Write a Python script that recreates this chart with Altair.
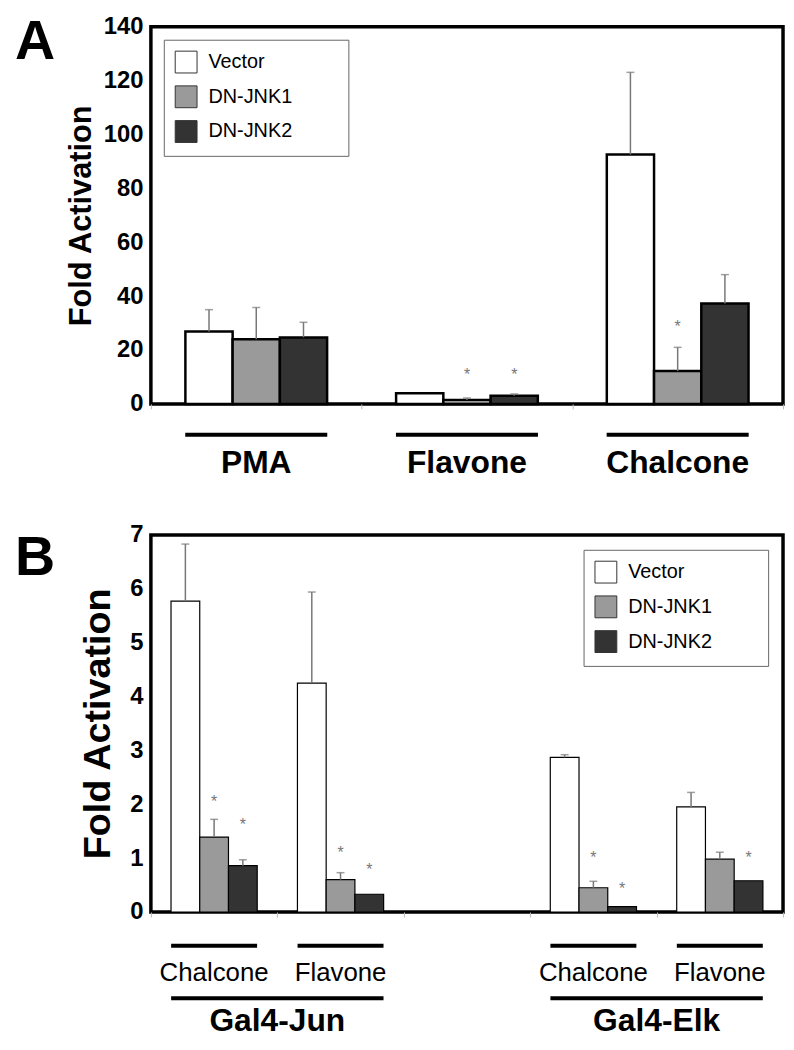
import altair as alt
import pandas as pd

FONT = "Liberation Sans"
series = ["Vector", "DN-JNK1", "DN-JNK2"]
colors = ["#ffffff", "#9a9a9a", "#333333"]

# ---------------- Panel A data ----------------
a_groups = ["PMA", "Flavone", "Chalcone"]
a_vector = [26.9, 4.0, 92.6]
a_jnk1 = [24.0, 1.5, 12.2]
a_jnk2 = [24.7, 3.0, 37.3]
a_vector_err = [8.1, 0.0, 30.5]
a_jnk1_err = [11.8, 0.7, 8.8]
a_jnk2_err = [5.6, 0.7, 10.7]
a_star_group = ["Flavone", "Flavone", "Chalcone"]
a_star_series = ["DN-JNK1", "DN-JNK2", "DN-JNK1"]
a_star_y = [10.7, 10.7, 28.4]
a_ticks = [0, 20, 40, 60, 80, 100, 120, 140]

# ---------------- Panel B data ----------------
b_slots = ["Jun Chalcone", "Jun Flavone", "gap", "Elk Chalcone", "Elk Flavone"]
b_groups = ["Jun Chalcone", "Jun Flavone", "Elk Chalcone", "Elk Flavone"]
b_sublabels = ["Chalcone", "Flavone", "Chalcone", "Flavone"]
b_vector = [5.77, 4.25, 2.87, 1.95]
b_jnk1 = [1.39, 0.60, 0.45, 0.98]
b_jnk2 = [0.86, 0.33, 0.10, 0.58]
b_vector_err = [1.06, 1.69, 0.05, 0.27]
b_jnk1_err = [0.33, 0.13, 0.12, 0.13]
b_jnk2_err = [0.11, 0.0, 0.0, 0.0]
b_star_group = ["Jun Chalcone", "Jun Chalcone", "Jun Flavone", "Jun Flavone",
                "Elk Chalcone", "Elk Chalcone", "Elk Flavone"]
b_star_series = ["DN-JNK1", "DN-JNK2", "DN-JNK1", "DN-JNK2",
                 "DN-JNK1", "DN-JNK2", "DN-JNK2"]
b_star_y = [2.04, 1.62, 1.1, 0.78, 1.0, 0.42, 1.0]
b_constructs = ["Gal4-Jun", "Gal4-Elk"]
b_construct_start = ["Jun Chalcone", "Elk Chalcone"]
b_construct_end = ["Jun Flavone", "Elk Flavone"]
b_ticks = [0, 1, 2, 3, 4, 5, 6, 7]

W, H = 637, 380
PAD = "\u2800" * 3  # blank braille cells widen the legend box


def long_df(groups, vals, errs):
    rows = []
    for s, v, e in zip(series, vals, errs):
        for g, vv, ee in zip(groups, v, e):
            rows.append({"group": g, "series": s, "value": vv, "top": vv + ee, "err": ee})
    return pd.DataFrame(rows)


def x_parts(groups):
    sc = alt.Scale(domain=groups, paddingInner=0, paddingOuter=0)
    ax = alt.Axis(labels=False, domain=False, ticks=True, tickBand="extent",
                  tickColor="#bbbbbb", tickSize=5, title=None, grid=False)
    return sc, ax


def panel(groups, domain, vals, errs, star_g, star_s, star_y, ticks, ymax,
          letter, bar_sw, off_pad, tick_fs, title_fs, title_pad, legend_orient,
          legend_offset, letter_y):
    df = long_df(domain, vals, errs)
    err_df = df[df["err"] > 0]
    star_df = pd.DataFrame({"group": star_g, "series": star_s, "y": star_y})

    x_sc, x_ax = x_parts(groups)
    x_enc = alt.X("group:N", scale=x_sc, axis=x_ax)
    xo = alt.XOffset("series:N", scale=alt.Scale(domain=series, paddingInner=0,
                                                 paddingOuter=off_pad))
    y_scale = alt.Scale(domain=[0, ymax], nice=False)
    y_axis = alt.Axis(values=ticks, title="Fold Activation", ticks=False, domain=False,
                      grid=False, labelFontSize=tick_fs, labelFontWeight="bold",
                      labelFont=FONT, labelColor="black", labelPadding=8,
                      titleFont=FONT, titleFontSize=title_fs, titleFontWeight="bold",
                      titleColor="black", titlePadding=title_pad)

    bars = alt.Chart(df).mark_bar(stroke="black", strokeWidth=bar_sw).encode(
        x=x_enc, xOffset=xo,
        y=alt.Y("value:Q", scale=y_scale, axis=y_axis),
        color=alt.Color("series:N", scale=alt.Scale(domain=series, range=colors),
                        legend=alt.Legend(title=None, orient=legend_orient,
                                          offset=legend_offset, padding=11,
                                          strokeColor="#666666", fillColor="white",
                                          symbolType="square", symbolSize=484,
                                          symbolStrokeColor="#333333", symbolStrokeWidth=1,
                                          symbolOpacity=1,
                                          labelFont=FONT, labelFontSize=20, labelColor="black",
                                          labelOffset=11, rowPadding=8,
                                          labelExpr="datum.label + '" + PAD + "'")),
    )
    rules = alt.Chart(err_df).mark_rule(color="#777777", strokeWidth=1.5).encode(
        x=x_enc, xOffset=xo, y=alt.Y("value:Q", scale=y_scale, axis=y_axis), y2="top:Q")
    caps = alt.Chart(err_df).mark_tick(color="#777777", size=8, thickness=1.5).encode(
        x=x_enc, xOffset=xo, y=alt.Y("top:Q", scale=y_scale, axis=y_axis))
    stars = alt.Chart(star_df).mark_text(text="*", fontSize=16, color="#777777",
                                         baseline="middle", font=FONT).encode(
        x=x_enc, xOffset=xo, y=alt.Y("y:Q", scale=y_scale, axis=y_axis))
    lab = alt.Chart(pd.DataFrame({"t": [letter]})).mark_text(
        fontSize=56, fontWeight="bold", align="left", baseline="alphabetic",
        font=FONT, color="black").encode(x=alt.value(-137), y=alt.value(letter_y), text="t:N")
    return x_sc, x_ax, [bars, rules, caps, stars, lab]


# ---------------- Panel A ----------------
xA_sc, xA_ax, layersA = panel(a_groups, a_groups, [a_vector, a_jnk1, a_jnk2],
                              [a_vector_err, a_jnk1_err, a_jnk2_err],
                              a_star_group, a_star_series, a_star_y, a_ticks, 140, "A",
                              2.5, 0.73, 24, 31, 6, "top-left", 13, 32)
a_lab_df = pd.DataFrame({"group": a_groups})
a_under = alt.Chart(a_lab_df).mark_rule(color="black", strokeWidth=4).encode(
    x=alt.X("group:N", bandPosition=0.163, scale=xA_sc, axis=xA_ax),
    x2=alt.X2("group", bandPosition=0.837), y=alt.value(H + 31))
a_text = alt.Chart(a_lab_df).mark_text(fontSize=32, fontWeight="bold", font=FONT,
                                       baseline="middle", color="black").encode(
    x=alt.X("group:N", scale=xA_sc, axis=xA_ax), y=alt.value(H + 60), text="group:N")
chartA = alt.layer(*layersA, a_under, a_text).properties(width=W, height=H)

# ---------------- Panel B ----------------
xB_sc, xB_ax, layersB = panel(b_slots, b_groups, [b_vector, b_jnk1, b_jnk2],
                              [b_vector_err, b_jnk1_err, b_jnk2_err],
                              b_star_group, b_star_series, b_star_y, b_ticks, 7, "B",
                              1.2, 0.7, 24, 38, 12, "top-right", 15, 40)
b_sub_df = pd.DataFrame({"group": b_groups, "label": b_sublabels})
b_under = alt.Chart(b_sub_df).mark_rule(color="black", strokeWidth=4).encode(
    x=alt.X("group:N", bandPosition=0.16, scale=xB_sc, axis=xB_ax),
    x2=alt.X2("group", bandPosition=0.84), y=alt.value(H + 34))
b_sub = alt.Chart(b_sub_df).mark_text(fontSize=26, font=FONT, baseline="middle",
                                      color="black").encode(
    x=alt.X("group:N", scale=xB_sc, axis=xB_ax), y=alt.value(H + 62), text="label:N")
b_con_df = pd.DataFrame({"group": b_construct_start, "end": b_construct_end,
                         "label": b_constructs})
b_con_under = alt.Chart(b_con_df).mark_rule(color="black", strokeWidth=4).encode(
    x=alt.X("group:N", bandPosition=0.16, scale=xB_sc, axis=xB_ax),
    x2=alt.X2("end", bandPosition=0.84), y=alt.value(H + 87))
b_con = alt.Chart(b_con_df).mark_text(fontSize=32, fontWeight="bold", font=FONT,
                                      baseline="middle", color="black").encode(
    x=alt.X("group:N", bandPosition=1, scale=xB_sc, axis=xB_ax),
    y=alt.value(H + 110), text="label:N")
chartB = alt.layer(*layersB, b_under, b_sub, b_con_under, b_con).properties(width=W, height=H)

chart = alt.vconcat(chartA, chartB, spacing=40).properties(
    padding={"left": 5, "top": 0, "right": 0, "bottom": -4}
).resolve_scale(
    x="independent", y="independent", xOffset="independent", color="independent"
).configure_view(stroke="black", strokeWidth=3.5)

chart.save("out.html", embed_options={"renderer": "svg", "actions": False})
